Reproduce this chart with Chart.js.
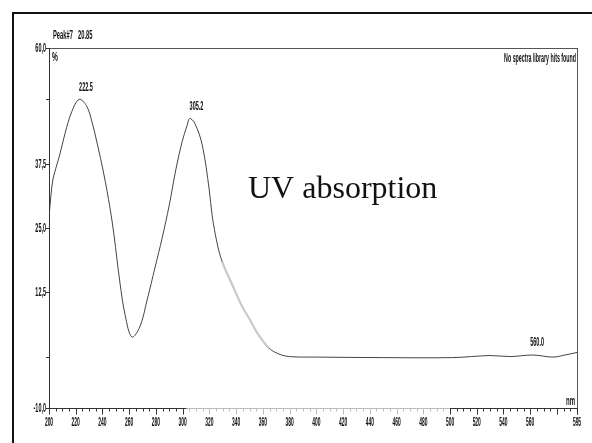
<!DOCTYPE html>
<html><head><meta charset="utf-8">
<script src="https://cdn.jsdelivr.net/npm/chart.js@4.4.1/dist/chart.umd.min.js"></script>
<style>html,body{margin:0;padding:0;background:#fff;overflow:hidden}#wrap{width:592px;height:443px}</style>
</head><body><div id="wrap"><canvas id="c" width="592" height="443"></canvas></div>
<script>
// ---- data ----
const wavelengths = [200, 201.5, 203, 205, 208, 212, 217, 222.5, 228, 232, 236, 241, 245.7, 248.7, 253, 257, 262, 268, 273.4, 279.4, 284.6, 290, 295, 299.6, 303.4, 305.2, 309, 314.6, 319.9, 322, 325.8, 329.6, 337, 344.6, 350, 355.8, 364.8, 372, 379.8, 400, 450, 502, 530, 545, 562, 577, 586, 595];
const absorbance  = [27, 31.5, 34.5, 36.5, 39.2, 43.4, 47.6, 50, 48.8, 45.8, 41.5, 35.5, 28.8, 23.5, 14.5, 8, 3.8, 5.8, 11, 17.4, 23, 29.5, 36.5, 41.8, 45, 46.3, 45.4, 41.2, 32.4, 27.5, 22, 18.4, 14, 9.7, 7.3, 4.6, 1.6, 0.5, 0.0, -0.1, -0.2, -0.2, 0.2, 0.0, 0.3, -0.1, 0.3, 0.8];
const xTickLabelValues = [200, 220, 240, 260, 280, 300, 320, 340, 360, 380, 400, 420, 440, 460, 480, 500, 520, 540, 560, 595];
const xTickLabels      = ['200','220','240','260','280','300','320','340','360','380','400','420','440','460','480','500','520','540','560','595'];
const yTickValues = [60, 50, 37.5, 25, 12.5, 0, -10];
const yTickLabels = ['60,0', '', '37,5', '25,0', '12,5', '', '-10,0'];
const peakWavelengths = [222.5, 305.2, 560.0];
const peakValues      = [50, 46.3, 0.3];
const peakLabels      = ['222.5', '305.2', '560.0'];
const headerLeft  = ['Peak#7', '20.85'];
const headerRight = 'No spectra library hits found';
const yUnit = '%';
const xUnit = 'nm';
const annotation = 'UV absorption';

// ---- helpers ----
function condText(ctx, text, x, y, align, sx, font, color) {
  ctx.save();
  ctx.font = font;
  ctx.fillStyle = color || '#111';
  ctx.textBaseline = 'middle';
  ctx.textAlign = 'left';
  const w = ctx.measureText(text).width * sx;
  const x0 = align === 'center' ? x - w / 2 : (align === 'right' ? x - w : x);
  ctx.translate(x0, y);
  ctx.scale(sx, 1);
  ctx.fillText(text, 0, 0);
  ctx.restore();
}
const SMALL = 'bold 12px "Liberation Sans", Arial, sans-serif';
const TICKF = 'bold 13px "Liberation Sans", Arial, sans-serif';

const decor = {
  id: 'decor',
  beforeDraw(chart) {
    const ctx = chart.ctx;
    ctx.save();
    ctx.fillStyle = '#fff';
    ctx.fillRect(0, 0, chart.width, chart.height);
    ctx.fillStyle = '#111';
    ctx.fillRect(12, 12, chart.width - 12, 2);
    ctx.fillRect(12, 12, 2, chart.height - 12);
    ctx.restore();
  },
  afterDraw(chart) {
    const ctx = chart.ctx;
    const xs = chart.scales.x, ys = chart.scales.y;
    const a = chart.chartArea;
    ctx.save();
    ctx.lineWidth = 1;
    ctx.strokeStyle = '#555';
    ctx.beginPath();
    ctx.moveTo(a.left, a.top + 0.5); ctx.lineTo(a.right, a.top + 0.5);
    ctx.moveTo(a.right + 0.5, a.top); ctx.lineTo(a.right + 0.5, a.bottom);
    ctx.stroke();
    ctx.strokeStyle = '#333';
    ctx.beginPath();
    ctx.moveTo(a.left + 0.5, a.top); ctx.lineTo(a.left + 0.5, a.bottom);
    ctx.stroke();
    const yb = Math.round(ys.getPixelForValue(-10)) + 0.5;
    const xg0 = xs.getPixelForValue(303), xg1 = xs.getPixelForValue(500);
    ctx.strokeStyle = '#333';
    ctx.beginPath(); ctx.moveTo(a.left, yb); ctx.lineTo(xg0, yb); ctx.moveTo(xg1, yb); ctx.lineTo(a.right + 1, yb); ctx.stroke();
    ctx.strokeStyle = '#bdbdbd';
    ctx.beginPath(); ctx.moveTo(xg0, yb); ctx.lineTo(xg1, yb); ctx.stroke();
    for (let v = xs.min; v <= xs.max + 0.01; v += 5) {
      const px = Math.round(xs.getPixelForValue(v)) + 0.5;
      const major = xTickLabelValues.includes(v) || v % 20 === 0;
      ctx.strokeStyle = (v > 303 && v < 500) ? '#bdbdbd' : '#333';
      ctx.beginPath(); ctx.moveTo(px, yb); ctx.lineTo(px, yb + (major ? 6 : 3)); ctx.stroke();
    }
    {
      const px = Math.round(xs.getPixelForValue(xs.max)) + 0.5;
      ctx.strokeStyle = '#333';
      ctx.beginPath(); ctx.moveTo(px, yb); ctx.lineTo(px, yb + 6); ctx.stroke();
    }
    xTickLabelValues.forEach((v, i) => {
      condText(ctx, xTickLabels[i], xs.getPixelForValue(v), yb + 14, 'center', 0.38, TICKF);
    });
    yTickValues.forEach((v, i) => {
      const py = Math.round(ys.getPixelForValue(v)) + 0.5;
      ctx.strokeStyle = '#333';
      ctx.beginPath(); ctx.moveTo(a.left - 3, py); ctx.lineTo(a.left, py); ctx.stroke();
      if (yTickLabels[i]) condText(ctx, yTickLabels[i], a.left - 3, py, 'right', 0.42, TICKF);
    });
    condText(ctx, yUnit, a.left + 3, a.top + 10, 'left', 0.55, SMALL);
    condText(ctx, xUnit, a.right - 2, yb - 7, 'right', 0.5, SMALL);
    condText(ctx, headerLeft[0], a.left + 4, 36, 'left', 0.48, SMALL);
    condText(ctx, headerLeft[1], a.left + 29, 36, 'left', 0.48, SMALL);
    condText(ctx, headerRight, a.right - 1, a.top + 11, 'right', 0.44, SMALL);
    peakWavelengths.forEach((w, i) => {
      const px = xs.getPixelForValue(w), py = ys.getPixelForValue(peakValues[i]);
      condText(ctx, peakLabels[i], px, py - 12, 'left', 0.46, SMALL);
    });
    ctx.font = '32px "Liberation Serif", "Times New Roman", serif';
    ctx.fillStyle = '#111';
    ctx.textAlign = 'left';
    ctx.textBaseline = 'alphabetic';
    ctx.fillText(annotation, 248, 198);
    ctx.restore();
  }
};

new Chart(document.getElementById('c'), {
  type: 'line',
  data: {
    datasets: [{
      data: wavelengths.map((x, i) => ({ x: x, y: absorbance[i] })),
      borderColor: '#444',
      borderWidth: 1,
      pointRadius: 0,
      fill: false,
      tension: 0.35,
      segment: {
        borderColor: c => (c.p0.parsed.x >= 329 && c.p1.parsed.x <= 366) ? '#c9c9c9' : undefined,
        borderWidth: c => (c.p0.parsed.x >= 329 && c.p1.parsed.x <= 366) ? 2.2 : undefined
      }
    }]
  },
  options: {
    responsive: false,
    animation: false,
    devicePixelRatio: 1,
    layout: { padding: { top: 48, right: 15, left: 0, bottom: 0 } },
    plugins: { legend: { display: false }, tooltip: { enabled: false } },
    scales: {
      x: {
        type: 'linear', min: 200, max: 595,
        border: { display: false }, grid: { display: false }, ticks: { display: false },
        afterFit: s => { s.height = 35; }
      },
      y: {
        type: 'linear', min: -10, max: 60,
        border: { display: false }, grid: { display: false }, ticks: { display: false },
        afterFit: s => { s.width = 49; }
      }
    }
  },
  plugins: [decor]
});
</script>
</body></html>
